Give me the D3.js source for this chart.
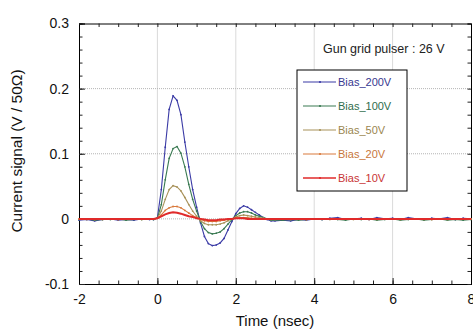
<!DOCTYPE html>
<html>
<head>
<meta charset="utf-8">
<script src="https://cdn.jsdelivr.net/npm/d3@7"></script>
<style>
  body { margin: 0; background: #fff; }
  svg text { font-family: "Liberation Sans", Arial, sans-serif; }
</style>
</head>
<body>
<div id="chart"></div>
<script>
/* Current signal vs time for several bias voltages */

// time axis (nsec), shared by all the series
const time = [-2,-1.8,-1.6,-1.4,-1.2,-1,-0.8,-0.6,-0.4,-0.2,
  -0.1,0,0.1,0.2,0.3,0.4,0.5,0.6,0.7,0.8,0.9,1,1.1,1.2,1.3,1.4,1.5,1.6,1.7,1.8,1.9,2,2.1,2.2,2.3,2.4,2.5,2.6,2.7,2.8,2.9,3,
  3.2,3.4,3.6,3.8,4,4.2,4.4,4.6,4.8,5,5.2,5.4,5.6,5.8,6,6.2,6.4,6.6,6.8,7,7.2,7.4,7.6,7.8,8];

const bias200 = [-0.002,-0.001,-0.003,-0.001,0.000,-0.002,-0.001,-0.002,0.000,-0.001,
  -0.001,0.002,0.045,0.110,0.168,0.189,0.182,0.160,0.118,0.080,
  0.045,0.018,-0.006,-0.027,-0.038,-0.041,-0.040,-0.037,-0.030,-0.017,
  -0.004,0.008,0.016,0.020,0.018,0.014,0.010,0.006,0.002,-0.001,-0.003,-0.003,
  -0.002,-0.003,-0.001,-0.002,0.000,-0.001,0.001,0.002,-0.001,0.000,0.001,-0.001,0.002,
  0.000,0.001,-0.001,0.002,0.000,-0.001,0.001,0.000,0.002,-0.001,0.001,0.000];

const bias100 = [-0.001,0.000,-0.002,-0.001,-0.001,0.000,-0.002,-0.001,-0.001,0.000,
  -0.001,0.001,0.022,0.060,0.093,0.108,0.111,0.101,0.080,0.053,
  0.030,0.012,-0.004,-0.015,-0.021,-0.023,-0.022,-0.020,-0.015,-0.008,
  -0.001,0.005,0.009,0.011,0.011,0.009,0.006,0.004,0.002,0.000,-0.002,-0.002,
  -0.002,-0.001,-0.002,-0.001,0.000,-0.001,0.000,-0.001,-0.002,0.000,-0.001,0.000,-0.002,
  -0.001,0.000,-0.002,-0.001,0.000,-0.002,-0.001,0.000,-0.002,-0.001,-0.002,-0.001];

const bias50 = [0.000,-0.001,0.000,-0.001,0.000,-0.001,0.000,0.000,-0.001,0.000,
  0.000,0.001,0.012,0.030,0.045,0.051,0.049,0.043,0.033,0.022,
  0.012,0.004,-0.003,-0.007,-0.009,-0.009,-0.009,-0.008,-0.006,-0.003,
  0.000,0.003,0.005,0.006,0.005,0.004,0.003,0.002,0.001,0.000,-0.001,-0.001,
  0.000,-0.001,0.000,-0.001,0.000,0.000,-0.001,0.000,0.000,-0.001,0.000,0.000,-0.001,
  0.000,0.000,-0.001,0.000,0.000,-0.001,0.000,0.000,-0.001,0.000,0.000,0.000];

const bias20 = [0.000,0.000,-0.001,0.000,0.000,-0.001,0.000,0.000,0.000,0.000,
  0.000,0.001,0.006,0.013,0.017,0.019,0.019,0.017,0.013,0.009,
  0.005,0.002,-0.001,-0.003,-0.004,-0.004,-0.004,-0.003,-0.002,-0.001,
  0.000,0.001,0.002,0.002,0.002,0.001,0.001,0.000,0.000,0.000,0.000,0.000,
  0.000,0.000,0.000,-0.001,0.000,0.000,0.000,0.000,0.000,0.000,0.000,-0.001,0.000,
  0.000,0.000,0.000,0.000,0.000,0.000,-0.001,0.000,0.000,0.000,0.000,0.000];

const bias10 = [0.000,0.000,0.000,0.000,0.000,0.000,0.000,0.000,0.000,0.000,
  0.000,0.001,0.004,0.007,0.009,0.010,0.0095,0.008,0.006,0.004,
  0.003,0.001,0.000,-0.001,-0.002,-0.002,-0.002,-0.001,-0.001,0.000,
  0.000,0.001,0.001,0.001,0.000,0.000,0.000,0.000,0.000,0.000,0.000,0.000,
  0.000,0.000,0.000,0.000,0.000,0.000,0.000,0.000,0.000,0.000,0.000,0.000,0.000,
  0.000,0.000,0.000,0.000,0.000,0.000,0.000,0.000,0.000,0.000,0.000,0.000];

const seriesNames = ["Bias_200V", "Bias_100V", "Bias_50V", "Bias_20V", "Bias_10V"];
const seriesValues = [bias200, bias100, bias50, bias20, bias10];
const lineColors = ["#3b3ba6", "#3a7a52", "#a8925a", "#d97a3c", "#e02a2a"];
const textColors = ["#383890", "#2f6c4c", "#9a8650", "#c8763a", "#c83434"];

const xTicks = [-2, 0, 2, 4, 6, 8];
const yTicks = [-0.1, 0, 0.1, 0.2, 0.3];
const yTickLabels = ["-0.1", "0", "0.1", "0.2", "0.3"];

const width = 473,
    height = 333,
    margin = ({top: 23.5, right: 2, bottom: 49, left: 79});

let svg = d3.select("#chart")
    .append("svg")
    .attr("width", width)
    .attr("height", height)
    .attr("viewBox", [0, 0, width, height]);

let x = d3.scaleLinear()
    .domain([-2, 8])
    .range([margin.left, width - margin.right]);

let y = d3.scaleLinear()
    .domain([-0.1, 0.3])
    .range([height - margin.bottom, margin.top]);

// dotted grid at the inner major ticks
let grid = svg.append("g");
grid.selectAll(".vg")
    .data(xTicks.slice(1, -1))
    .join("line")
    .attr("x1", d => x(d)).attr("x2", d => x(d))
    .attr("y1", y(0.3)).attr("y2", y(-0.1))
    .attr("stroke", "#b4b4b4")
    .attr("stroke-dasharray", "1,1");
grid.selectAll(".hg")
    .data(yTicks.slice(1, -1))
    .join("line")
    .attr("y1", d => y(d)).attr("y2", d => y(d))
    .attr("x1", x(-2)).attr("x2", x(8))
    .attr("stroke", "#b4b4b4")
    .attr("stroke-dasharray", "1,1");

// minor tick positions
const xMinor = d3.range(-2, 8.01, 0.5);
const yMinor = d3.range(-0.1, 0.301, 0.02);

function styleAxis(g) {
    g.select(".domain").attr("stroke", "#000");
    g.selectAll(".tick line").attr("stroke", "#222");
    g.selectAll(".tick text")
        .attr("fill", "#111")
        .style("font-size", "14px");
}

// bottom
svg.append("g")
    .attr("transform", `translate(0,${y(-0.1)})`)
    .call(d3.axisBottom(x).tickValues(xMinor).tickSize(-3.5).tickFormat(""))
    .call(styleAxis);
svg.append("g")
    .attr("transform", `translate(0,${y(-0.1)})`)
    .call(d3.axisBottom(x).tickValues(xTicks).tickSize(-6).tickPadding(10).tickFormat(d => String(d)))
    .call(styleAxis);
// top
svg.append("g")
    .attr("transform", `translate(0,${y(0.3)})`)
    .call(d3.axisTop(x).tickValues(xMinor).tickSize(-3.5).tickFormat(""))
    .call(styleAxis);
// left
svg.append("g")
    .attr("transform", `translate(${x(-2)},0)`)
    .call(d3.axisLeft(y).tickValues(yMinor).tickSize(-3.5).tickFormat(""))
    .call(styleAxis);
svg.append("g")
    .attr("transform", `translate(${x(-2)},0)`)
    .call(d3.axisLeft(y).tickValues(yTicks).tickSize(-6).tickPadding(10).tickFormat((d, i) => yTickLabels[i]))
    .call(styleAxis);
// right
svg.append("g")
    .attr("transform", `translate(${x(8)},0)`)
    .call(d3.axisRight(y).tickValues(yMinor).tickSize(-3.5).tickFormat(""))
    .call(styleAxis);

// the curves
const line = d3.line()
    .x((d, i) => x(time[i]))
    .y(d => y(d));

let curves = svg.append("g");
seriesValues.forEach((vals, k) => {
    curves.append("path")
        .datum(vals)
        .attr("fill", "none")
        .attr("stroke", lineColors[k])
        .attr("stroke-width", k === 4 ? 2 : 1.1)
        .attr("d", line);
    if (k < 4) {
        curves.selectAll(".pt" + k)
            .data(vals)
            .join("circle")
            .attr("cx", (d, i) => x(time[i]))
            .attr("cy", d => y(d))
            .attr("r", 0.9)
            .attr("fill", lineColors[k]);
    }
});

// annotation
svg.append("text")
    .attr("x", 323)
    .attr("y", 53)
    .attr("fill", "#222")
    .style("font-size", "12.5px")
    .text("Gun grid pulser : 26 V");

// legend
let legend = svg.append("g");
legend.append("rect")
    .attr("x", 297).attr("y", 70)
    .attr("width", 110).attr("height", 121)
    .attr("fill", "#fff")
    .attr("stroke", "#000")
    .attr("stroke-width", 1);

let item = legend.selectAll(".item")
    .data(seriesNames)
    .join("g")
    .attr("transform", (d, i) => `translate(0,${82 + i * 24})`);
item.append("line")
    .attr("x1", 303).attr("x2", 336)
    .attr("stroke", (d, i) => lineColors[i])
    .attr("stroke-width", (d, i) => i === 4 ? 1.6 : 1.1);
item.append("circle")
    .attr("cx", 320).attr("r", 1.1)
    .attr("fill", (d, i) => lineColors[i]);
item.append("text")
    .attr("x", 338).attr("y", 4)
    .attr("fill", (d, i) => textColors[i])
    .style("font-size", "11px")
    .text(d => d);

// axis titles
svg.append("text")
    .attr("x", 275).attr("y", 326)
    .attr("text-anchor", "middle")
    .attr("fill", "#111")
    .style("font-size", "15px")
    .text("Time (nsec)");

svg.append("text")
    .attr("transform", "translate(22,151) rotate(-90)")
    .attr("text-anchor", "middle")
    .attr("fill", "#111")
    .style("font-size", "15.5px")
    .text("Current signal (V / 50Ω)");
</script>
</body>
</html>
